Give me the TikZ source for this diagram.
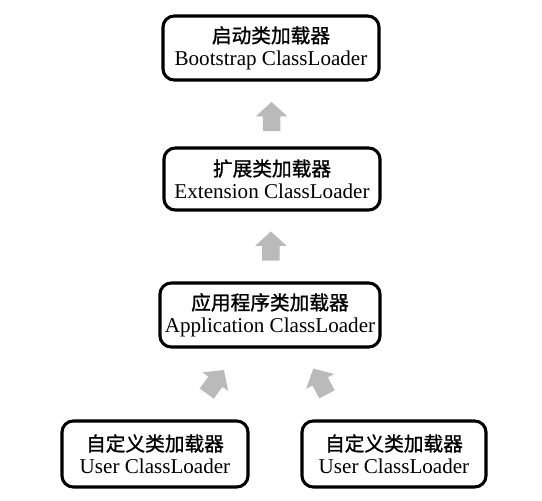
\documentclass[tikz,border=0pt]{standalone}
\usepackage{fontspec}
\setmainfont{Liberation Serif}
\newfontfamily\cjk[FakeBold=1.2]{Noto Sans CJK SC}
\usetikzlibrary{positioning,shapes.arrows,calc}

\tikzset{
  loader/.style={draw=black, line width=2.2pt, rounded corners=8pt, align=center,
    inner sep=2pt, font=\fontsize{15}{16}\selectfont},
  uparrow/.style={single arrow, fill=black!27, draw=none, inner sep=0.21cm,
    minimum width=0.78cm, minimum height=0.73cm, single arrow tip angle=95,
    single arrow head extend=0.18cm}
}
\newcommand{\zh}[1]{{\cjk\fontsize{14}{16}\selectfont #1}}

\begin{document}
\begin{tikzpicture}[x=0.025cm,y=-0.025cm]
  \useasboundingbox (0,0) rectangle (542,501);
  % loaders
  \node[loader, minimum width=5.4cm, minimum height=1.6cm] (boot) at (271,48)
    {\zh{启动类加载器}\\Bootstrap ClassLoader};
  \node[loader, minimum width=5.4cm, minimum height=1.55cm] (ext) at (272,179)
    {\zh{扩展类加载器}\\Extension ClassLoader};
  \node[loader, minimum width=5.5cm, minimum height=1.6cm] (app) at (270,315)
    {\zh{应用程序类加载器}\\Application ClassLoader};
  \node[loader, minimum width=4.65cm, minimum height=1.65cm] (usera) at (155,454)
    {\zh{自定义类加载器}\\User ClassLoader};
  \node[loader, minimum width=4.6cm, minimum height=1.65cm] (userb) at (394,454)
    {\zh{自定义类加载器}\\User ClassLoader};

  % arrows
  \node[uparrow, rotate=90] (up1) at ($(ext.north)!0.4!(boot.south)$) {};
  \node[uparrow, rotate=90] (up2) at ($(app.north)!0.45!(ext.south)$) {};
  \node[uparrow, rotate=54] (upa) at (213,385) {};
  \node[uparrow, rotate=118] (upb) at (322,385) {};
\end{tikzpicture}
\end{document}
